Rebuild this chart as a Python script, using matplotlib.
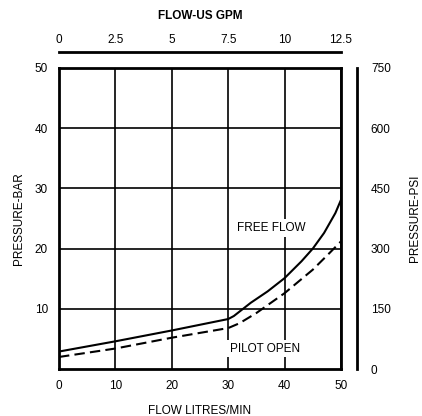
import numpy as np
import matplotlib.pyplot as plt

plt.rcParams["font.family"] = ["Liberation Sans", "DejaVu Sans"]
plt.rcParams["font.size"] = 8.5

# 데이터
free_flow_x = [0, 10, 20, 30, 31, 34, 37, 40, 43, 45, 47, 49, 50]
free_flow_bar = [2.9, 4.6, 6.4, 8.3, 8.8, 11.0, 12.9, 15.1, 17.9, 20.0, 22.6, 25.9, 28.1]

pilot_open_x = [0, 10, 20, 30, 32, 35, 40, 45, 48, 50]
pilot_open_bar = [2.0, 3.4, 5.2, 6.8, 7.6, 9.3, 12.6, 16.5, 19.3, 21.2]

lpm_ticks = [0, 10, 20, 30, 40, 50]
bar_ticks = [10, 20, 30, 40, 50]
gpm_ticks = [0, 2.5, 5, 7.5, 10, 12.5]
psi_ticks = [0, 150, 300, 450, 600, 750]

W, H = 422, 416
fig = plt.figure(figsize=(W / 100, H / 100), dpi=100)
ax = fig.add_axes([59 / W, 1 - 369 / H, (341 - 59) / W, (369 - 68) / H])

ax.plot(free_flow_x, free_flow_bar, color="black", lw=1.5, zorder=3)
ax.plot(pilot_open_x, pilot_open_bar, color="black", lw=1.5,
        dashes=(5, 2.5), zorder=3)

ax.set_xlim(0, 50)
ax.set_ylim(0, 50)
ax.set_xticks(lpm_ticks)
ax.set_yticks(bar_ticks)
ax.grid(True, color="black", lw=1.2)
ax.tick_params(length=0, pad=8)
for s in ax.spines.values():
    s.set_linewidth(2.0)
ax.set_xlabel("FLOW LITRES/MIN", labelpad=9)
ax.set_ylabel("PRESSURE-BAR", labelpad=7)

ax.text(37.6, 23.4, "FREE FLOW", ha="center", va="center", zorder=4,
        bbox=dict(facecolor="white", edgecolor="none", pad=2))
ax.text(36.5, 3.4, "PILOT OPEN", ha="center", va="center", zorder=4,
        bbox=dict(facecolor="white", edgecolor="none", pad=2))

# 위쪽 GPM 축
top = ax.twiny()
top.set_xlim(0, 12.5)
top.set_xticks(gpm_ticks)
top.set_xticklabels([f"{t:g}" for t in gpm_ticks])
for k in ["left", "right", "bottom"]:
    top.spines[k].set_visible(False)
top.spines["top"].set_position(("outward", 11.5))
top.spines["top"].set_linewidth(2.0)
top.tick_params(length=0, pad=4)
top.set_xlabel("FLOW-US GPM", fontweight="bold", labelpad=11)

# 오른쪽 PSI 축
right = ax.twinx()
right.set_ylim(0, 750)
right.set_yticks(psi_ticks)
for k in ["left", "top", "bottom"]:
    right.spines[k].set_visible(False)
right.spines["right"].set_position(("outward", 11.5))
right.spines["right"].set_linewidth(2.0)
right.tick_params(length=0, pad=10)
right.set_ylabel("PRESSURE-PSI", labelpad=13)

fig.savefig("out.png", dpi=100)
